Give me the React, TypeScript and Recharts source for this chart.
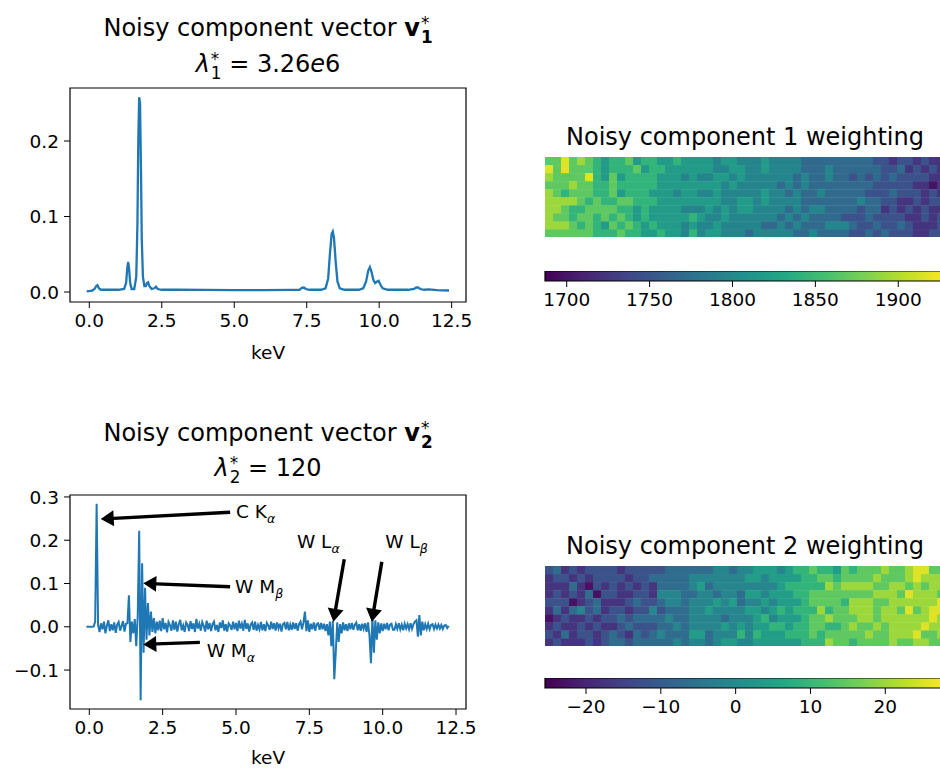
import React from 'react';
import {
  LineChart, Line, XAxis, YAxis, ReferenceArea, ReferenceLine, ReferenceDot,
  ScatterChart, Scatter, ComposedChart,
} from 'recharts';

const BLUE = '#1f77b4';
const FONT = "'DejaVu Sans', 'Liberation Sans', sans-serif";
const TICK_FS = 18.5;

// ---------- Component 1 spectrum: [keV, value] ----------
const V1_POINTS: [number, number][] = [
  [-0.09, 0.001], [0.1, 0.002], [0.18, 0.004], [0.24, 0.008], [0.28, 0.009], [0.33, 0.005],
  [0.4, 0.003], [0.7, 0.003], [1.0, 0.003], [1.2, 0.004], [1.27, 0.012], [1.31, 0.032],
  [1.34, 0.04], [1.37, 0.032], [1.41, 0.012], [1.46, 0.004], [1.55, 0.004], [1.62, 0.02],
  [1.66, 0.09], [1.69, 0.2], [1.72, 0.258], [1.75, 0.25], [1.78, 0.17], [1.81, 0.07],
  [1.85, 0.02], [1.9, 0.008], [1.95, 0.008], [1.99, 0.012], [2.03, 0.013], [2.07, 0.008],
  [2.15, 0.004], [2.24, 0.005], [2.3, 0.007], [2.36, 0.004], [2.5, 0.003], [3.0, 0.003],
  [4.0, 0.0028], [5.0, 0.0026], [6.0, 0.0026], [7.0, 0.0028], [7.25, 0.003], [7.33, 0.0055],
  [7.4, 0.006], [7.47, 0.004], [7.6, 0.003], [8.0, 0.003], [8.15, 0.005], [8.24, 0.018],
  [8.3, 0.05], [8.36, 0.077], [8.4, 0.08], [8.44, 0.072], [8.5, 0.04], [8.56, 0.014],
  [8.64, 0.005], [8.8, 0.003], [9.3, 0.003], [9.45, 0.005], [9.55, 0.014], [9.62, 0.028],
  [9.68, 0.033], [9.74, 0.026], [9.8, 0.016], [9.86, 0.012], [9.93, 0.014], [9.98, 0.015],
  [10.04, 0.01], [10.12, 0.005], [10.3, 0.003], [11.0, 0.003], [11.2, 0.004], [11.28, 0.006],
  [11.34, 0.006], [11.42, 0.004], [11.55, 0.003], [11.7, 0.0035], [12.0, 0.0025], [12.41, 0.002],
];

// ---------- Component 2 spectrum: energy axis start/step and values ----------
const V2_START_KEV = -0.1;
const V2_STEP_KEV = 0.05;
const V2_VALUES: number[] = [
  0, 0, 0, 0, 0, 0.001, 0.012, 0.284, 0.004, -0.012,
  0.008, -0.006, 0.012, -0.015, 0.003, 0.015, -0.01, 0.006, -0.008, 0.01,
  -0.014, 0.005, 0.011, -0.009, 0.002, 0.013, -0.011, 0.007, 0.008, 0.073,
  -0.035, 0.012, -0.015, 0.018, -0.045, 0.025, 0.222, -0.17, 0.147, -0.06,
  0.09, -0.03, 0.055, -0.02, 0.035, -0.012, 0.02, -0.015, 0.012, -0.008,
  0.014, -0.01, 0.02, -0.006, 0.009, -0.013, 0.011, 0.004, -0.009, 0.015,
  -0.007, 0.012, -0.011, 0.006, 0.016, -0.008, 0.003, -0.012, 0.01, 0.005,
  -0.01, 0.013, -0.005, 0.008, -0.012, 0.018, -0.004, 0.007, -0.009, 0.011,
  0.002, -0.011, 0.014, -0.006, 0.009, -0.01, 0.006, 0.012, -0.008, 0.004,
  -0.012, 0.01, -0.003, 0.015, -0.009, 0.006, -0.011, 0.008, 0.003, -0.007,
  0.012, -0.006, 0.009, -0.01, 0.014, -0.004, 0.007, -0.009, 0.016, -0.005,
  0.008, -0.011, 0.005, 0.01, -0.007, 0.012, -0.009, 0.004, -0.006, 0.011,
  -0.008, 0.006, -0.01, 0.009, 0.003, -0.007, 0.012, -0.005, 0.008, -0.009,
  0.01, -0.004, 0.007, -0.011, 0.006, 0.009, -0.006, 0.011, -0.008, 0.005,
  -0.007, 0.01, -0.005, 0.008, -0.009, 0.006, 0.012, -0.006, 0.01, 0.035,
  -0.01, 0.015, -0.012, 0.007, -0.006, 0.01, -0.009, 0.006, 0.008, -0.007,
  0.009, -0.006, 0.007, -0.01, 0.006, -0.02, 0.012, -0.045, 0.014, -0.121,
  -0.06, 0.01, -0.035, 0.006, -0.015, 0.01, -0.008, 0.006, -0.01, 0.008,
  -0.006, 0.009, -0.007, 0.005, 0.01, -0.008, 0.006, -0.009, 0.007, -0.005,
  0.008, -0.012, 0.01, -0.02, -0.084, 0.025, -0.06, 0.015, -0.03, 0.01,
  -0.015, 0.008, -0.01, 0.007, -0.006, 0.009, -0.008, 0.005, 0.007, -0.007,
  -0.007, 0.006, -0.005, 0.008, -0.006, 0.005, -0.008, 0.007, -0.004, 0.006,
  -0.006, 0.008, -0.005, 0.006, 0.012, 0.015, -0.023, 0.027, -0.02, 0.012,
  -0.008, 0.006, -0.005, 0.007, -0.006, 0.004, 0.006, -0.005, 0.005, -0.004,
  0.005, -0.004, 0.004, -0.005, 0.003, 0.004, -0.003, 0.002,
];

// ---------- Axis ticks ----------
const KEV_TICKS = [0, 2.5, 5, 7.5, 10, 12.5];
const V1_Y_TICKS = [0, 0.1, 0.2];
const V2_Y_TICKS = [-0.1, 0, 0.1, 0.2, 0.3];
const CB1_TICKS = [1700, 1750, 1800, 1850, 1900];
const CB2_TICKS = [-20, -10, 0, 10, 20];

// ---------- Annotations on component 2 (tail -> tip in data coords, label anchor) ----------
const ANNOTATIONS = [
  { main: 'C K', sub: 'α', tail: [4.8, 0.2645], tip: [0.39, 0.249], label: [5.0, 0.2676], anchor: 'start' },
  { main: 'W M', sub: 'β', tail: [4.8, 0.0925], tip: [1.84, 0.1003], label: [4.966, 0.0943], anchor: 'start' },
  { main: 'W M', sub: 'α', tail: [3.77, -0.036], tip: [1.84, -0.0407], label: [4.0, -0.0552], anchor: 'start' },
  { main: 'W L', sub: 'α', tail: [8.69, 0.156], tip: [8.32, 0.0116], label: [7.805, 0.1966], anchor: 'middle' },
  { main: 'W L', sub: 'β', tail: [9.97, 0.15], tip: [9.63, 0.0116], label: [10.81, 0.1966], anchor: 'middle' },
];

// ---------- Weighting maps: 10 rows x 50 cols, viridis level 0-9 read per cell ----------
const HM1_ROWS = [
  '7797876566' + '7566556555' + '5455444544' + '4433333333' + '3221221211',
  '9797776566' + '6756655555' + '5445544544' + '4433343333' + '3322312121',
  '8777796575' + '6666555454' + '4554544444' + '4343343323' + '2323222211',
  '7778776676' + '6666555555' + '5545444443' + '4343333333' + '3222221101',
  '8767776675' + '6665554554' + '4544444544' + '3433433333' + '2223222121',
  '8888767667' + '7666555555' + '5544554544' + '4433333334' + '3322112122',
  '8876677776' + '6565555444' + '5454554444' + '3434433332' + '3312121211',
  '8776776767' + '6565555565' + '4454444443' + '4343333222' + '3222211212',
  '8887676576' + '7656555454' + '4544444334' + '3433344432' + '2322321112',
  '7777776667' + '6655655464' + '5544434444' + '4334333322' + '3232221122',
];
const HM2_ROWS = [
  '2312122221' + '2222233333' + '3443445554' + '5667665767' + '7787789977',
  '1221212222' + '1223333344' + '4444455455' + '5566776777' + '7877789888',
  '1113102121' + '2121333345' + '3444444445' + '6666687888' + '8778878788',
  '1212130221' + '1221444334' + '4344355455' + '5667777777' + '7888798887',
  '2220123111' + '2322344344' + '4545344545' + '5567777688' + '8778888889',
  '1313423122' + '1224233344' + '5444455456' + '5666867788' + '8788797899',
  '0121121223' + '2333343344' + '4434445645' + '5567787778' + '8788888898',
  '1211212112' + '3222334344' + '4454545566' + '5667766787' + '7878888988',
  '2131221232' + '1323433355' + '3444646555' + '6667677777' + '8778889778',
  '1211121233' + '2333334344' + '3455445555' + '5566687767' + '7778778877',
];
const HM1_RANGE: [number, number] = [1686.9, 1928.2];
const HM2_RANGE: [number, number] = [-25.48, 27.98];

// ---------- viridis colormap ----------
const VIRIDIS = ['#440154', '#482475', '#414487', '#355f8d', '#2a788e', '#21918c', '#22a884', '#44bf70', '#7ad151', '#bddf26', '#fde725'];
function hexToRgb(h: string) {
  return [parseInt(h.slice(1, 3), 16), parseInt(h.slice(3, 5), 16), parseInt(h.slice(5, 7), 16)];
}
function viridis(t: number) {
  const tt = Math.max(0, Math.min(1, t)) * (VIRIDIS.length - 1);
  const i = Math.min(VIRIDIS.length - 2, Math.floor(tt));
  const f = tt - i;
  const a = hexToRgb(VIRIDIS[i]);
  const b = hexToRgb(VIRIDIS[i + 1]);
  const c = a.map((v, k) => Math.round(v + (b[k] - v) * f));
  return `rgb(${c[0]},${c[1]},${c[2]})`;
}

const minusFmt = (v: number, digits = 0) => (v < 0 ? '\u2212' : '') + Math.abs(v).toFixed(digits);

// ---------- geometry ----------
const HM_W = 400;
const HM_H = 80.6;
const NCOLS = 50;
const NROWS = 10;
const CW = HM_W / NCOLS;
const CH = HM_H / NROWS;
const CB_PAD = 14;

function buildCells(rows: string[], range: [number, number]) {
  const cells: any[] = [];
  rows.forEach((row, r) => {
    row.split('').forEach((ch, c) => {
      const level = Number(ch);
      const value = range[0] + ((level + 0.5) / 10) * (range[1] - range[0]);
      const t = (value - range[0]) / (range[1] - range[0]);
      cells.push({ x: c + 0.5, y: r + 0.5, value, color: viridis(t) });
    });
  });
  return cells;
}

const v1Data = V1_POINTS.map(([kev, val]) => ({ kev, val }));
const v2Data = V2_VALUES.map((val, i) => ({ kev: +(V2_START_KEV + i * V2_STEP_KEV).toFixed(3), val }));
const hm1Cells = buildCells(HM1_ROWS, HM1_RANGE);
const hm2Cells = buildCells(HM2_ROWS, HM2_RANGE);

const tickStyle = { fill: '#000', fontSize: TICK_FS };

const Arrow = (p: any) => {
  const { x1, y1, x2, y2 } = p;
  const dx = x2 - x1, dy = y2 - y1;
  const len = Math.hypot(dx, dy) || 1;
  const ux = dx / len, uy = dy / len;
  const nx = -uy, ny = ux;
  const HL = 13, HW = 8, SW = 1.7;
  const bx = x2 - ux * HL, by = y2 - uy * HL;
  const pts = [
    [x1 + nx * SW, y1 + ny * SW], [bx + nx * SW, by + ny * SW], [bx + nx * HW, by + ny * HW],
    [x2, y2], [bx - nx * HW, by - ny * HW], [bx - nx * SW, by - ny * SW], [x1 - nx * SW, y1 - ny * SW],
  ];
  return <polygon points={pts.map((q) => q.join(',')).join(' ')} fill="#000" />;
};

const SubSup = ({ sub, sup, bold }: { sub: string; sup: string; bold?: boolean }) => (
  <span style={{ display: 'inline-block', verticalAlign: '-0.42em', lineHeight: '1em', fontSize: '0.7em', textAlign: 'left', marginLeft: 1 }}>
    <span style={{ display: 'block', fontWeight: 'normal', height: '0.85em', overflow: 'visible' }}>{sup}</span>
    <span style={{ display: 'block', fontWeight: bold ? 'bold' : 'normal' }}>{sub}</span>
  </span>
);

const Title = ({ cx, cy, children }: { cx: number; cy: number; children: React.ReactNode }) => (
  <div style={{ position: 'absolute', left: cx - 250, width: 500, top: cy - 16, height: 32, lineHeight: '32px', textAlign: 'center', fontSize: 24, whiteSpace: 'nowrap', color: '#000' }}>
    {children}
  </div>
);

function SpectrumChart({ data, xDomain, yDomain, yTicks, strokeWidth, annotations, labelOffset }: any) {
  return (
    <LineChart width={480} height={292} data={data} margin={{ top: 8, right: 14, bottom: 20, left: 10 }}>
      <XAxis
        type="number" dataKey="kev" domain={xDomain} ticks={KEV_TICKS} allowDataOverflow interval={0}
        tickFormatter={(v: number) => v.toFixed(1)} tick={tickStyle} tickLine={{ stroke: '#000' }}
        axisLine={false} tickSize={6} tickMargin={6} height={50}
        label={{ value: 'keV', position: 'bottom', offset: labelOffset, fill: '#000', fontSize: TICK_FS }}
      />
      <YAxis
        type="number" domain={yDomain} ticks={yTicks} allowDataOverflow interval={0} width={60}
        tickFormatter={(v: number) => minusFmt(v, 1)} tick={tickStyle} tickLine={{ stroke: '#000' }}
        axisLine={false} tickSize={6} tickMargin={5}
      />
      <Line type="linear" dataKey="val" stroke={BLUE} strokeWidth={strokeWidth} dot={false} isAnimationActive={false} />
      <ReferenceArea x1={xDomain[0]} x2={xDomain[1]} y1={yDomain[0]} y2={yDomain[1]} fill="none" fillOpacity={0} stroke="#000" strokeWidth={1.2} ifOverflow="visible" />
      {(annotations || []).map((a: any, i: number) => (
        <ReferenceLine key={'a' + i} segment={[{ x: a.tail[0], y: a.tail[1] }, { x: a.tip[0], y: a.tip[1] }]} ifOverflow="visible" shape={Arrow} />
      ))}
      {(annotations || []).map((a: any, i: number) => (
        <ReferenceDot
          key={'l' + i} x={a.label[0]} y={a.label[1]} r={0} ifOverflow="visible"
          shape={(p: any) => (
            <text x={p.cx} y={p.cy} dy="0.36em" textAnchor={a.anchor} fontSize={18.5} fill="#000">
              <tspan>{a.main}</tspan>
              <tspan dy={5} fontSize={12.5} fontStyle="italic">{a.sub}</tspan>
            </text>
          )}
        />
      ))}
    </LineChart>
  );
}

function Heatmap({ cells }: { cells: any[] }) {
  return (
    <ScatterChart width={HM_W} height={HM_H} margin={{ top: 0, right: 0, bottom: 0, left: 0 }}>
      <XAxis type="number" dataKey="x" domain={[0, NCOLS]} hide />
      <YAxis type="number" dataKey="y" domain={[0, NROWS]} reversed hide />
      <Scatter
        data={cells} isAnimationActive={false}
        shape={(p: any) => (
          <rect x={p.cx - CW / 2} y={p.cy - CH / 2} width={CW + 0.4} height={CH + 0.4} fill={p.payload.color} />
        )}
      />
    </ScatterChart>
  );
}

function Colorbar({ range, ticks }: { range: [number, number]; ticks: number[] }) {
  const data = [{ x: range[0], y: 0 }, { x: range[1], y: 1 }];
  return (
    <ComposedChart width={HM_W + CB_PAD} height={45} data={data} margin={{ top: 0, right: 0, bottom: 0, left: CB_PAD }}>
      <XAxis
        type="number" dataKey="x" domain={range} ticks={ticks} allowDataOverflow interval={0}
        tickFormatter={(v: number) => minusFmt(v, 0)} tick={tickStyle} tickLine={{ stroke: '#000' }}
        axisLine={false} tickSize={6} tickMargin={6} height={35}
      />
      <YAxis type="number" dataKey="y" domain={[0, 1]} hide />
      <Line dataKey="y" stroke="none" dot={false} isAnimationActive={false} />
      <ReferenceArea x1={range[0]} x2={range[1]} y1={0} y2={1} fill="url(#viridisGrad)" fillOpacity={1} stroke="#000" strokeWidth={1.2} ifOverflow="visible" />
    </ComposedChart>
  );
}

export default function App() {
  return (
    <div style={{ position: 'absolute', left: 0, top: 0, width: 940, height: 771, overflow: 'hidden', background: '#fff', fontFamily: FONT }}>
      <svg width={0} height={0} style={{ position: 'absolute' }}>
        <defs>
          <linearGradient id="viridisGrad" x1="0" x2="1" y1="0" y2="0">
            {VIRIDIS.map((c, i) => (
              <stop key={i} offset={`${(i / (VIRIDIS.length - 1)) * 100}%`} stopColor={c} />
            ))}
          </linearGradient>
        </defs>
      </svg>

      <Title cx={268} cy={28}>Noisy component vector <b>v</b><SubSup sub="1" sup="*" bold /></Title>
      <Title cx={268} cy={64}><i>λ</i><SubSup sub="1" sup="*" /> = 3.26<i>e</i>6</Title>
      <div style={{ position: 'absolute', left: 0, top: 80 }}>
        <SpectrumChart data={v1Data} xDomain={[-0.666, 12.995]} yDomain={[-0.0132, 0.2702]} yTicks={V1_Y_TICKS} strokeWidth={2.3} labelOffset={-6} />
      </div>

      <Title cx={268} cy={433}>Noisy component vector <b>v</b><SubSup sub="2" sup="*" bold /></Title>
      <Title cx={268} cy={468}><i>λ</i><SubSup sub="2" sup="*" /> = 120</Title>
      <div style={{ position: 'absolute', left: 0, top: 487 }}>
        <SpectrumChart data={v2Data} xDomain={[-0.658, 12.84]} yDomain={[-0.19, 0.3045]} yTicks={V2_Y_TICKS} strokeWidth={2} annotations={ANNOTATIONS} labelOffset={-8} />
      </div>

      <Title cx={745} cy={137}>Noisy component 1 weighting</Title>
      <div style={{ position: 'absolute', left: 545, top: 156.7 }}>
        <Heatmap cells={hm1Cells} />
      </div>
      <div style={{ position: 'absolute', left: 545 - CB_PAD, top: 271 }}>
        <Colorbar range={HM1_RANGE} ticks={CB1_TICKS} />
      </div>

      <Title cx={745} cy={546}>Noisy component 2 weighting</Title>
      <div style={{ position: 'absolute', left: 545, top: 565.7 }}>
        <Heatmap cells={hm2Cells} />
      </div>
      <div style={{ position: 'absolute', left: 545 - CB_PAD, top: 678 }}>
        <Colorbar range={HM2_RANGE} ticks={CB2_TICKS} />
      </div>
    </div>
  );
}
